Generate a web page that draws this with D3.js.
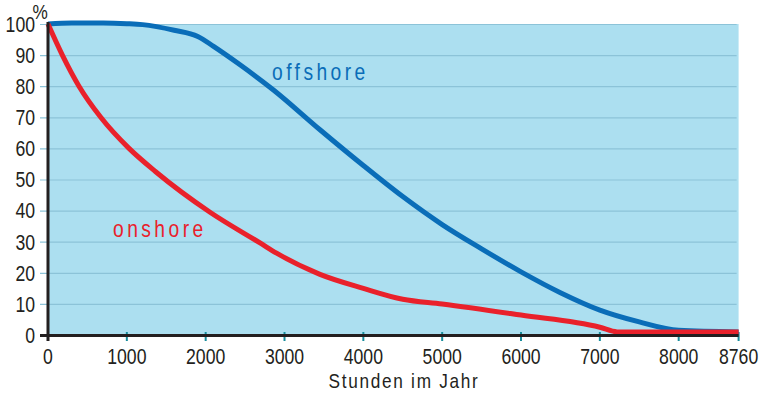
<!DOCTYPE html>
<html><head><meta charset="utf-8">
<script src="https://cdn.jsdelivr.net/npm/d3@7"></script>
<style>
html,body{margin:0;padding:0;background:#fff;}
svg{display:block;}
text{font-family:"Liberation Sans",Arial,sans-serif;fill:#231f20;}
</style></head>
<body>
<svg id="c" width="763" height="394"></svg>
<script>
// ---- data ----
const offshoreHours = [0,300,700,1000,1200,1600,1900,2100,2440,2860,3450,4000,4500,5000,5500,6000,6500,7000,7500,8000,8760];
const offshoreValues = [100,100.3,100.3,100.1,99.8,98,96,92.8,86.8,78.8,66,54.5,44.5,35.5,27.7,20.3,13.6,8,4.2,1.5,1];
const onshoreHours = [0,182,393,669,1028,1366,2060,2690,2900,3450,4000,4500,5000,6000,7000,7220,8760];
const onshoreValues = [100,90,80,70,60,52.5,39.4,29.6,26.3,19.5,15,11.5,10,6.4,2.5,1,1];
const xTicks = [0,1000,2000,3000,4000,5000,6000,7000,8000,8760];
const xTickLabels = ["0","1000","2000","3000","4000","5000","6000","7000","8000","8760"];
const yTicks = [0,10,20,30,40,50,60,70,80,90,100];
const yTickLabels = ["0","10","20","30","40","50","60","70","80","90","100"];
const xTitle = "Stunden im Jahr";
const yUnit = "%";
const seriesNames = ["offshore","onshore"];

// ---- layout ----
const SX = 0.82; // condensed look
const svg = d3.select("#c");
const x = d3.scaleLinear().domain([0,8760]).range([48,738.6]);
const y = d3.scaleLinear().domain([0,100]).range([335,24]);

function ctext(g, px, py, str, size, anchor, color, ls){
  const t = g.append("text")
    .attr("transform", `translate(${px},${py}) scale(${SX},1)`)
    .attr("text-anchor", anchor || "start")
    .attr("font-size", size)
    .text(str);
  if (color) t.style("fill", color);
  if (ls) t.attr("letter-spacing", ls);
  return t;
}

// background
svg.append("rect").attr("x",x(0)).attr("y",y(100)).attr("width",x(8760)-x(0)).attr("height",y(0)-y(100)).attr("fill","#acdff0");

// grid lines
svg.append("g").selectAll("line").data(yTicks.filter(d=>d>0)).join("line")
  .attr("x1",40).attr("x2",x(8760)-2).attr("y1",d=>y(d)+0.5).attr("y2",d=>y(d)+0.5)
  .attr("stroke","#8cc3d8").attr("stroke-width",1.2);

// y labels
const gy = svg.append("g");
yTicks.forEach((d,i)=>{ ctext(gy, 35, y(d)+7.8, yTickLabels[i], 21.5, "end"); });
ctext(svg, 32.5, 19, yUnit, 21, "start");

// x ticks (teal)
svg.append("g").selectAll("line").data(xTicks.filter(d=>d>0)).join("line")
  .attr("x1",d=>x(d)).attr("x2",d=>x(d)).attr("y1",332).attr("y2",341)
  .attr("stroke","#178d9c").attr("stroke-width",2);

// lines
const line = d3.line().curve(d3.curveMonotoneX).x(d=>x(d[0])).y(d=>y(d[1]));
svg.append("path").datum(offshoreHours.map((h,i)=>[h,offshoreValues[i]]))
  .attr("d",line).attr("fill","none").attr("stroke","#0a6db8").attr("stroke-width",5);
svg.append("path").datum(onshoreHours.map((h,i)=>[h,onshoreValues[i]]))
  .attr("d",line).attr("fill","none").attr("stroke","#e9212b").attr("stroke-width",5);

// axes
svg.append("line").attr("x1",40).attr("x2",x(8760)).attr("y1",335.5).attr("y2",335.5).attr("stroke","#231f20").attr("stroke-width",3);
svg.append("line").attr("x1",x(0)).attr("x2",x(0)).attr("y1",22).attr("y2",341).attr("stroke","#231f20").attr("stroke-width",3);

// x labels
const gx = svg.append("g");
xTicks.forEach((d,i)=>{ ctext(gx, x(d), 364, xTickLabels[i], 21.5, "middle"); });
ctext(svg, 404, 388, xTitle, 21, "middle", null, 2.1);

// series labels
ctext(svg, 272, 80, seriesNames[0], 23.5, "start", "#0a6db8", 4.2);
ctext(svg, 113, 237, seriesNames[1], 23.5, "start", "#e9212b", 4.2);
</script>
</body></html>
